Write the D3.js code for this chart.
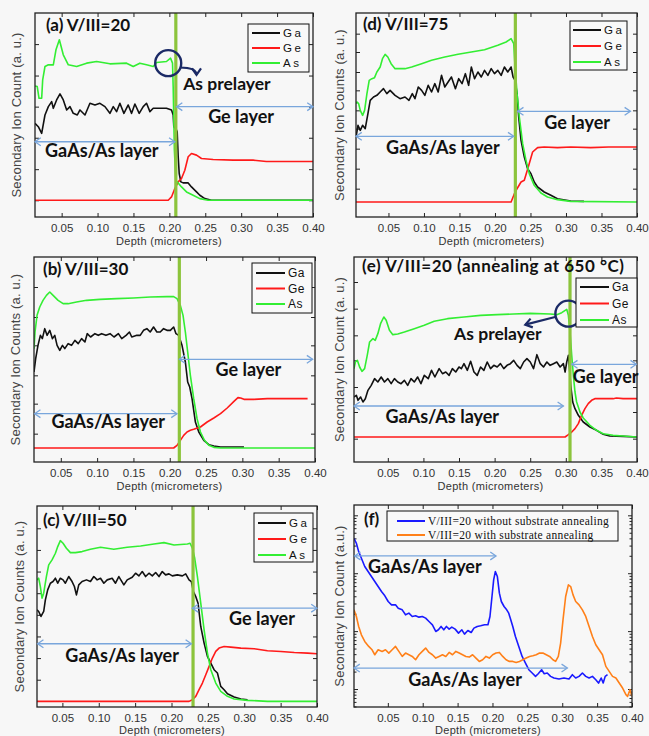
<!DOCTYPE html>
<html><head><meta charset="utf-8">
<script src="https://cdn.jsdelivr.net/npm/d3@7/dist/d3.min.js"></script>
<style>
body{margin:0;background:#f7f7f7;}
svg{display:block;}
</style></head><body>
<svg id="fig" width="649" height="736"></svg>
<script>
// ---------------- DATA ----------------
const depthTicks = [0.05,0.10,0.15,0.20,0.25,0.30,0.35,0.40];
const elementNames = ["Ga","Ge","As"];
const fNames = ["V/III=20 without substrate annealing","V/III=20 with substrate annealing"];

// (a) V/III=20
const aGa = [[0.0129,280],[0.0175,270],[0.0222,250],[0.0268,305],[0.0315,330],[0.0361,345],[0.0384,325],[0.0430,350],[0.0477,368],[0.0523,350],[0.0570,320],[0.0616,330],[0.0662,310],[0.0718,305],[0.0755,320],[0.0825,305],[0.0894,340],[0.0964,335],[0.1033,340],[0.1103,330],[0.1172,310],[0.1219,330],[0.1265,315],[0.1311,340],[0.1367,310],[0.1427,335],[0.1474,310],[0.1520,338],[0.1580,310],[0.1636,330],[0.1682,340],[0.1729,315],[0.1775,325],[0.1868,325],[0.1960,325],[0.2030,320],[0.2053,305],[0.2062,270],[0.2100,260],[0.2109,255],[0.2123,180],[0.2137,130],[0.2160,105],[0.2192,102],[0.2262,102],[0.2308,90],[0.2378,75],[0.2424,65],[0.2494,55],[0.2586,50],[0.4000,50]];
const aGe = [[0.0129,50],[0.1984,50],[0.2030,60],[0.2076,85],[0.2123,105],[0.2169,115],[0.2215,140],[0.2262,180],[0.2308,190],[0.2378,185],[0.2447,175],[0.2609,172],[0.2888,170],[0.3166,170],[0.3351,166],[0.3583,166],[0.4000,166]];
const aAs = [[0.0129,392],[0.0160,390],[0.0185,355],[0.0222,355],[0.0236,410],[0.0268,450],[0.0315,455],[0.0384,455],[0.0421,500],[0.0468,530],[0.0523,485],[0.0593,455],[0.0709,450],[0.0848,460],[0.0987,465],[0.1172,458],[0.1404,460],[0.1497,450],[0.1589,460],[0.1682,455],[0.1775,450],[0.1821,462],[0.1960,465],[0.2016,475],[0.2044,460],[0.2053,390],[0.2070,200],[0.2090,110],[0.2169,90],[0.2239,75],[0.2331,65],[0.2424,55],[0.2540,50],[0.4000,50]];
const aYTicks = [50,143,237,330,423,517];

// (d) V/III=75
const dGa = [[0.0043,240],[0.0071,275],[0.0103,260],[0.0136,275],[0.0173,265],[0.0211,310],[0.0243,350],[0.0290,360],[0.0337,365],[0.0383,375],[0.0430,385],[0.0477,370],[0.0523,380],[0.0593,365],[0.0663,355],[0.0733,360],[0.0789,350],[0.0836,370],[0.0873,355],[0.0920,390],[0.0967,380],[0.1013,365],[0.1060,395],[0.1107,375],[0.1153,400],[0.1200,375],[0.1247,425],[0.1293,390],[0.1340,405],[0.1387,420],[0.1443,385],[0.1489,415],[0.1536,400],[0.1583,430],[0.1629,395],[0.1667,450],[0.1713,415],[0.1760,435],[0.1807,420],[0.1853,440],[0.1900,425],[0.1947,445],[0.1993,430],[0.2040,440],[0.2087,425],[0.2133,450],[0.2180,435],[0.2227,450],[0.2255,420],[0.2283,410],[0.2311,370],[0.2334,300],[0.2367,230],[0.2413,180],[0.2460,145],[0.2507,130],[0.2553,105],[0.2600,90],[0.2693,75],[0.2787,65],[0.2880,55],[0.3067,48],[0.3253,47]];
const dGe = [[0.0043,45],[0.2227,45],[0.2283,75],[0.2367,105],[0.2413,110],[0.2469,150],[0.2530,195],[0.2600,208],[0.2693,210],[0.2880,208],[0.3067,210],[0.3347,208],[0.3600,210],[0.4000,210]];
const dAs = [[0.0043,340],[0.0057,345],[0.0080,340],[0.0103,320],[0.0136,305],[0.0164,320],[0.0197,370],[0.0229,410],[0.0267,415],[0.0304,418],[0.0337,435],[0.0383,450],[0.0416,475],[0.0453,488],[0.0491,480],[0.0537,460],[0.0593,445],[0.0663,445],[0.0733,445],[0.0827,450],[0.0967,460],[0.1107,470],[0.1293,480],[0.1480,488],[0.1667,495],[0.1853,502],[0.2040,515],[0.2157,525],[0.2227,535],[0.2264,520],[0.2283,450],[0.2311,370],[0.2343,300],[0.2390,220],[0.2437,170],[0.2483,130],[0.2553,95],[0.2647,72],[0.2740,60],[0.2880,52],[0.3067,47],[0.4000,45]];
const dYTicks = [85,145,205,265,320,380,435,495,550];

// (b) V/III=30
const bGa = [[0.0131,270],[0.0154,310],[0.0186,350],[0.0219,380],[0.0246,370],[0.0279,400],[0.0311,380],[0.0348,395],[0.0385,370],[0.0417,380],[0.0449,350],[0.0486,335],[0.0523,350],[0.0555,340],[0.0601,355],[0.0648,350],[0.0694,365],[0.0740,355],[0.0786,370],[0.0832,360],[0.0864,385],[0.0910,375],[0.0970,385],[0.1016,380],[0.1062,385],[0.1122,380],[0.1178,385],[0.1233,375],[0.1293,385],[0.1339,370],[0.1399,380],[0.1445,390],[0.1477,375],[0.1547,380],[0.1593,380],[0.1639,395],[0.1685,400],[0.1731,390],[0.1777,405],[0.1823,390],[0.1869,390],[0.1915,400],[0.1962,395],[0.2008,395],[0.2054,405],[0.2086,385],[0.2123,380],[0.2169,350],[0.2215,300],[0.2247,240],[0.2275,225],[0.2307,190],[0.2353,120],[0.2400,90],[0.2469,65],[0.2538,52],[0.2607,48],[0.2699,45],[0.3022,45]];
const bGe = [[0.0131,42],[0.2054,42],[0.2100,50],[0.2146,65],[0.2192,80],[0.2238,90],[0.2284,95],[0.2330,98],[0.2423,105],[0.2515,120],[0.2607,132],[0.2699,145],[0.2791,162],[0.2884,182],[0.2939,193],[0.2976,192],[0.3022,188],[0.3160,188],[0.3345,190],[0.3575,190],[0.3898,190]];
const bAs = [[0.0131,340],[0.0145,390],[0.0173,440],[0.0210,465],[0.0255,485],[0.0302,500],[0.0348,510],[0.0394,500],[0.0463,485],[0.0532,475],[0.0601,475],[0.0717,480],[0.0855,485],[0.1039,488],[0.1270,490],[0.1500,492],[0.1731,495],[0.1962,496],[0.2054,496],[0.2100,490],[0.2146,470],[0.2183,440],[0.2215,390],[0.2247,330],[0.2284,260],[0.2330,190],[0.2376,130],[0.2423,90],[0.2478,65],[0.2538,50],[0.2607,44],[0.2699,42],[0.4000,42]];
const bYTicks = [85,175,260,350,435,525];

// (e) V/III=20 annealed at 650 C
const eGa = [[0.0025,195],[0.0058,200],[0.0081,185],[0.0118,195],[0.0151,180],[0.0184,190],[0.0221,215],[0.0267,230],[0.0314,250],[0.0360,240],[0.0407,255],[0.0453,240],[0.0500,250],[0.0547,235],[0.0593,250],[0.0640,240],[0.0686,235],[0.0733,245],[0.0779,230],[0.0826,250],[0.0872,240],[0.0919,255],[0.0965,235],[0.1012,260],[0.1068,250],[0.1114,275],[0.1161,255],[0.1221,280],[0.1268,265],[0.1314,270],[0.1361,260],[0.1407,280],[0.1454,270],[0.1500,285],[0.1533,280],[0.1570,295],[0.1617,275],[0.1663,302],[0.1710,270],[0.1756,260],[0.1803,285],[0.1849,275],[0.1896,300],[0.1943,280],[0.1989,290],[0.2036,285],[0.2082,295],[0.2129,280],[0.2175,290],[0.2222,295],[0.2268,305],[0.2315,290],[0.2361,280],[0.2408,300],[0.2454,310],[0.2501,300],[0.2547,280],[0.2594,322],[0.2641,295],[0.2687,285],[0.2734,300],[0.2780,290],[0.2827,295],[0.2873,300],[0.2920,285],[0.2966,295],[0.2990,270],[0.3013,300],[0.3036,320],[0.3050,285],[0.3069,230],[0.3097,180],[0.3129,160],[0.3176,140],[0.3245,120],[0.3339,105],[0.3432,95],[0.3525,83],[0.3618,78],[0.3804,77],[0.4000,75]];
const eGe = [[0.0025,75],[0.2990,75],[0.3036,82],[0.3083,90],[0.3129,100],[0.3176,115],[0.3222,140],[0.3269,160],[0.3315,175],[0.3362,185],[0.3408,190],[0.3525,190],[0.3664,190],[0.3711,192],[0.3804,190],[0.4000,190]];
const eAs = [[0.0025,280],[0.0044,300],[0.0072,305],[0.0104,285],[0.0137,272],[0.0174,280],[0.0211,320],[0.0244,360],[0.0291,370],[0.0323,365],[0.0360,385],[0.0398,415],[0.0444,435],[0.0477,425],[0.0523,395],[0.0570,382],[0.0640,384],[0.0733,390],[0.0872,400],[0.1012,410],[0.1151,422],[0.1338,430],[0.1570,435],[0.1803,440],[0.2036,442],[0.2268,444],[0.2501,446],[0.2780,444],[0.2873,442],[0.2943,448],[0.3013,458],[0.3036,440],[0.3059,390],[0.3083,320],[0.3106,260],[0.3129,210],[0.3152,180],[0.3199,150],[0.3245,132],[0.3339,110],[0.3432,95],[0.3525,85],[0.3664,80],[0.3804,78],[0.4000,75]];
const eYTicks = [70,150,225,305,380,460,540];

// (c) V/III=50
const cGa = [[0.0151,292],[0.0174,287],[0.0206,272],[0.0243,287],[0.0266,322],[0.0298,352],[0.0335,372],[0.0371,377],[0.0404,387],[0.0436,372],[0.0472,387],[0.0509,382],[0.0541,372],[0.0587,392],[0.0633,377],[0.0665,362],[0.0693,337],[0.0725,367],[0.0771,377],[0.0831,382],[0.0886,377],[0.0932,392],[0.0978,382],[0.1024,387],[0.1070,372],[0.1116,382],[0.1184,387],[0.1230,372],[0.1276,392],[0.1345,367],[0.1391,382],[0.1460,390],[0.1506,402],[0.1552,394],[0.1598,407],[0.1644,392],[0.1690,402],[0.1736,394],[0.1782,404],[0.1828,392],[0.1873,407],[0.1919,397],[0.1965,400],[0.2011,394],[0.2080,397],[0.2149,394],[0.2195,400],[0.2241,382],[0.2273,377],[0.2301,347],[0.2333,332],[0.2365,312],[0.2402,242],[0.2448,192],[0.2494,152],[0.2540,132],[0.2585,112],[0.2631,102],[0.2677,62],[0.2723,52],[0.2769,40],[0.2861,30],[0.2953,24],[0.3045,22]];
const cGe = [[0.0151,17],[0.2241,17],[0.2287,22],[0.2333,32],[0.2379,52],[0.2425,72],[0.2471,97],[0.2517,122],[0.2562,147],[0.2608,167],[0.2654,177],[0.2723,182],[0.2815,180],[0.2953,177],[0.3137,175],[0.3320,169],[0.3504,167],[0.3688,164],[0.3872,162],[0.4000,160]];
const cAs = [[0.0151,382],[0.0174,387],[0.0197,362],[0.0220,327],[0.0243,342],[0.0280,392],[0.0312,427],[0.0358,442],[0.0404,462],[0.0436,482],[0.0472,500],[0.0509,492],[0.0555,477],[0.0610,464],[0.0679,464],[0.0771,467],[0.0886,474],[0.1024,480],[0.1207,474],[0.1391,480],[0.1575,484],[0.1759,490],[0.1896,494],[0.2034,487],[0.2218,490],[0.2255,492],[0.2287,477],[0.2319,447],[0.2356,392],[0.2402,312],[0.2448,232],[0.2494,162],[0.2540,112],[0.2608,72],[0.2677,47],[0.2769,32],[0.2861,24],[0.3045,20],[0.3320,17],[0.4000,17]];
const cYTicks = [82,147,212,277,342,407,472,537];

// (f) comparison
const fBlue = [[0.0015,507],[0.0049,492],[0.0082,467],[0.0121,447],[0.0169,422],[0.0217,407],[0.0265,392],[0.0313,377],[0.0361,362],[0.0409,347],[0.0457,334],[0.0505,317],[0.0553,307],[0.0610,307],[0.0649,297],[0.0706,292],[0.0754,277],[0.0802,282],[0.0850,272],[0.0898,274],[0.0946,270],[0.0994,272],[0.1042,267],[0.1090,257],[0.1139,247],[0.1187,227],[0.1225,232],[0.1263,242],[0.1302,232],[0.1340,242],[0.1379,234],[0.1417,240],[0.1465,234],[0.1513,222],[0.1561,232],[0.1599,219],[0.1647,230],[0.1695,224],[0.1734,237],[0.1782,242],[0.1830,244],[0.1887,247],[0.1935,247],[0.1964,272],[0.1993,332],[0.2017,382],[0.2041,407],[0.2070,392],[0.2099,342],[0.2127,317],[0.2166,302],[0.2204,292],[0.2233,282],[0.2262,262],[0.2291,242],[0.2329,212],[0.2377,182],[0.2425,152],[0.2473,132],[0.2521,112],[0.2569,102],[0.2617,92],[0.2656,100],[0.2704,112],[0.2742,100],[0.2785,102],[0.2833,92],[0.2881,87],[0.2953,84],[0.3025,87],[0.3097,84],[0.3145,97],[0.3193,87],[0.3241,92],[0.3289,102],[0.3337,92],[0.3385,87],[0.3433,92],[0.3481,82],[0.3520,72],[0.3558,87],[0.3587,72],[0.3616,92],[0.3649,97]];
const fOrange = [[0.0015,292],[0.0049,272],[0.0082,242],[0.0121,217],[0.0169,197],[0.0226,182],[0.0274,172],[0.0313,157],[0.0361,172],[0.0418,167],[0.0466,172],[0.0514,162],[0.0562,172],[0.0610,182],[0.0658,167],[0.0706,152],[0.0754,162],[0.0802,157],[0.0850,152],[0.0898,142],[0.0946,157],[0.0994,167],[0.1042,177],[0.1090,164],[0.1139,157],[0.1187,147],[0.1235,152],[0.1283,157],[0.1331,152],[0.1379,164],[0.1427,157],[0.1475,167],[0.1523,162],[0.1571,157],[0.1619,152],[0.1667,150],[0.1715,157],[0.1763,147],[0.1811,137],[0.1859,142],[0.1907,152],[0.1955,147],[0.2003,157],[0.2051,162],[0.2099,164],[0.2147,152],[0.2195,142],[0.2243,137],[0.2291,137],[0.2339,134],[0.2387,137],[0.2435,142],[0.2483,147],[0.2531,152],[0.2579,154],[0.2627,157],[0.2675,162],[0.2723,162],[0.2771,157],[0.2819,152],[0.2867,142],[0.2905,137],[0.2944,152],[0.2977,192],[0.3011,262],[0.3049,332],[0.3088,367],[0.3121,362],[0.3155,337],[0.3193,317],[0.3241,307],[0.3289,292],[0.3337,272],[0.3385,242],[0.3433,212],[0.3481,187],[0.3529,172],[0.3577,157],[0.3625,122],[0.3673,107],[0.3721,92],[0.3769,87],[0.3817,72],[0.3865,57],[0.3913,37],[0.3937,32],[0.3971,52],[0.4000,32]];
const fDecades = [54,228,402,576];

// ---------------- DRAWING ----------------
const svg = d3.select("#fig");
const COL = {Ga:"#111111", Ge:"#ff1a1a", As:"#33ee33", blue:"#1a1aff", orange:"#ff8019",
  iface:"#8cc43c", arrow:"#79a6dc", navy:"#1b2a66", frame:"#222"};
const annFont = "Lato, 'Open Sans', sans-serif";
const sansFont = "'Liberation Sans', Arial, sans-serif";

function chevron(g, tip, ang, color, size, w) {
  const a1 = ang + Math.PI - 0.6, a2 = ang + Math.PI + 0.6;
  g.append("path")
    .attr("d", `M${tip[0]+size*Math.cos(a1)},${tip[1]+size*Math.sin(a1)}L${tip[0]},${tip[1]}L${tip[0]+size*Math.cos(a2)},${tip[1]+size*Math.sin(a2)}`)
    .attr("fill","none").attr("stroke",color).attr("stroke-width",w);
}

function panel(cfg) {
  const g = svg.append("g");
  const x = d3.scaleLinear().domain(cfg.xDomain).range([cfg.left, cfg.right]);
  const y = d3.scaleLinear().domain(cfg.yDomain).range([cfg.bottom, cfg.top]);
  const cid = "clip_" + cfg.id;
  svg.append("clipPath").attr("id", cid).append("rect")
    .attr("x", cfg.left).attr("y", cfg.top)
    .attr("width", cfg.right - cfg.left).attr("height", cfg.bottom - cfg.top);

  // axes (inward ticks)
  g.append("g").attr("transform", `translate(0,${cfg.bottom})`)
    .call(d3.axisBottom(x).tickValues(depthTicks).tickFormat(d3.format(".2f")).tickSizeInner(-4).tickSizeOuter(0).tickPadding(7.3))
    .call(a => { a.select(".domain").remove();
      a.selectAll("text").attr("font-family", sansFont).attr("font-size",11.5).attr("fill","#333");
      a.selectAll("line").attr("stroke",COL.frame); });
  g.append("g").attr("transform", `translate(0,${cfg.top})`)
    .call(d3.axisTop(x).tickValues(depthTicks).tickFormat("").tickSizeInner(-4).tickSizeOuter(0))
    .call(a => { a.select(".domain").remove(); a.selectAll("line").attr("stroke",COL.frame); });
  const drawY = (vals, size) => {
    g.append("g").attr("transform", `translate(${cfg.left},0)`)
      .call(d3.axisLeft(y).tickValues(vals).tickFormat("").tickSizeInner(-size).tickSizeOuter(0))
      .call(a => { a.select(".domain").remove(); a.selectAll("line").attr("stroke",COL.frame); });
    g.append("g").attr("transform", `translate(${cfg.right},0)`)
      .call(d3.axisRight(y).tickValues(vals).tickFormat("").tickSizeInner(-size).tickSizeOuter(0))
      .call(a => { a.select(".domain").remove(); a.selectAll("line").attr("stroke",COL.frame); });
  };
  drawY(cfg.yTicks, 4);
  if (cfg.yMinor) drawY(cfg.yMinor, 2.5);

  // series
  const line = d3.line().x(d => x(d[0])).y(d => y(d[1]));
  const cg = g.append("g").attr("clip-path", `url(#${cid})`);
  cfg.series.forEach(s => {
    cg.append("path").datum(s.data).attr("d", line)
      .attr("fill","none").attr("stroke", s.color).attr("stroke-width", 1.6)
      .attr("stroke-linejoin","round");
  });
  if (cfg.iface != null) {
    cg.append("line").attr("x1", x(cfg.iface)).attr("x2", x(cfg.iface))
      .attr("y1", cfg.top).attr("y2", cfg.bottom)
      .attr("stroke", COL.iface).attr("stroke-width", 3.2);
  }

  // frame
  g.append("rect").attr("x", cfg.left).attr("y", cfg.top)
    .attr("width", cfg.right - cfg.left).attr("height", cfg.bottom - cfg.top)
    .attr("fill","none").attr("stroke", COL.frame).attr("stroke-width", 1.3);

  // axis titles
  g.append("text").attr("x", (cfg.left + cfg.right)/2 - 5).attr("y", Math.min(cfg.bottom + 28, 734))
    .attr("text-anchor","middle").attr("font-family", sansFont)
    .attr("font-size", 11).attr("letter-spacing", 0.3).attr("fill","#333").text("Depth (micrometers)");
  g.append("text").attr("transform", `translate(${cfg.yLabelX},${(cfg.top+cfg.bottom)/2}) rotate(-90)`)
    .attr("text-anchor","middle").attr("dy","0.35em")
    .attr("font-family", sansFont)
    .attr("font-size", 13).attr("letter-spacing", 0.2).attr("fill","#444").text(cfg.yLabel);

  // title
  const tt = g.append("text").attr("x", cfg.titleX).attr("y", cfg.titleY)
    .attr("font-family", annFont).attr("font-weight", 700).attr("font-size", 17)
    .attr("fill","#111").text(cfg.title);
  if (cfg.titleLen) tt.attr("textLength", cfg.titleLen).attr("lengthAdjust", "spacing");

  // layer arrows
  cfg.layers.forEach(L => {
    const x1 = x(L.x1), x2 = x(L.x2), yy = y(L.y);
    g.append("line").attr("x1", x1).attr("x2", x2).attr("y1", yy).attr("y2", yy)
      .attr("stroke", COL.arrow).attr("stroke-width", 1.3);
    chevron(g, [x1, yy], Math.PI, COL.arrow, 7, 1.3);
    chevron(g, [x2, yy], 0, COL.arrow, 7, 1.3);
    g.append("text").attr("x", x(L.lx)).attr("y", y(L.ly))
      .attr("font-family", annFont).attr("font-weight", 700).attr("font-size", 18)
      .attr("fill","#111").text(L.label);
  });

  // As prelayer annotation
  if (cfg.pre) {
    const P = cfg.pre;
    g.append("circle").attr("cx", x(P.c[0])).attr("cy", y(P.c[1])).attr("r", 13)
      .attr("fill","none").attr("stroke", COL.navy).attr("stroke-width", 2.4);
    const s = [x(P.s[0]), y(P.s[1])], e = [x(P.e[0]), y(P.e[1])];
    const c = P.bend ? [e[0], s[1]] : [(s[0]+e[0])/2, (s[1]+e[1])/2];
    g.append("path").attr("d", `M${s[0]},${s[1]}Q${c[0]},${c[1]} ${e[0]},${e[1]}`)
      .attr("fill","none").attr("stroke", COL.navy).attr("stroke-width", 2.2);
    chevron(g, e, Math.atan2(e[1]-c[1], e[0]-c[0]), COL.navy, 8, 2.2);
    g.append("text").attr("x", x(P.t[0])).attr("y", y(P.t[1]))
      .attr("font-family", annFont).attr("font-weight", 700).attr("font-size", 17.5)
      .attr("fill","#111").text("As prelayer");
  }

  // legend
  const Lg = cfg.legend;
  g.append("rect").attr("x", Lg.x).attr("y", Lg.y).attr("width", Lg.w).attr("height", Lg.h)
    .attr("fill","#f9f9f9").attr("stroke","#111").attr("stroke-width", 1);
  cfg.series.forEach((s, i) => {
    const yy = Lg.y + Lg.r0 + i * Lg.dr;
    g.append("line").attr("x1", Lg.x + Lg.l1).attr("x2", Lg.x + Lg.l2)
      .attr("y1", yy).attr("y2", yy).attr("stroke", s.color).attr("stroke-width", 2);
    g.append("text").attr("x", Lg.x + Lg.l2 + 3).attr("y", yy).attr("dy","0.36em")
      .attr("font-family", Lg.font).attr("font-size", Lg.fs)
      .attr("letter-spacing", Lg.ls).attr("fill","#111").text(s.name);
  });
}

const elemSeries = (ga, ge, as) => [
  {name: elementNames[0], data: ga, color: COL.Ga},
  {name: elementNames[1], data: ge, color: COL.Ge},
  {name: elementNames[2], data: as, color: COL.As}];

panel({id:"a", left:35, right:313, top:13, bottom:217, xDomain:[0.0129,0.40], yDomain:[0,610],
  yTicks:aYTicks, iface:0.2090, series: elemSeries(aGa, aGe, aAs),
  title:"(a) V/III=20", titleX:46, titleY:31, yLabel:"Secondary Ion Count (a. u.)", yLabelX:16,
  legend:{x:248, y:24, w:61, h:48, r0:9, dr:15, l1:4, l2:32, font:sansFont, fs:11.5, ls:2.5},
  layers:[{x1:0.2100, x2:0.40, y:330, label:"Ge layer", lx:0.2540, ly:280},
          {x1:0.0129, x2:0.2076, y:225, label:"GaAs/As layer", lx:0.0268, ly:180}],
  pre:{c:[0.1984,460], s:[0.2146,447], e:[0.2378,425], t:[0.2192,380], bend:true}});

panel({id:"d", left:356, right:637, top:13, bottom:217, xDomain:[0.0043,0.40], yDomain:[0,612],
  yTicks:dYTicks, iface:0.2287, series: elemSeries(dGa, dGe, dAs),
  title:"(d) V/III=75", titleX:363, titleY:30, yLabel:"Secondary Ion Counts (a. u.)", yLabelX:339,
  legend:{x:570, y:21, w:57, h:49, r0:9, dr:16, l1:3, l2:31, font:sansFont, fs:11.5, ls:2.5},
  layers:[{x1:0.2320, x2:0.3907, y:317, label:"Ge layer", lx:0.2693, ly:265},
          {x1:0.0043, x2:0.2264, y:242, label:"GaAs/As layer", lx:0.0467, ly:188}]});

panel({id:"b", left:34, right:315, top:257, bottom:462, xDomain:[0.0131,0.40], yDomain:[0,615],
  yTicks:bYTicks, iface:0.2132, series: elemSeries(bGa, bGe, bAs),
  title:"(b) V/III=30", titleX:43, titleY:275, yLabel:"Secondary Ion Counts (a. u.)", yLabelX:15,
  legend:{x:252, y:263, w:60, h:50, r0:10, dr:15.5, l1:4, l2:33, font:sansFont, fs:12, ls:0.5},
  layers:[{x1:0.2132, x2:0.3967, y:308, label:"Ge layer", lx:0.2630, ly:258},
          {x1:0.0140, x2:0.2100, y:145, label:"GaAs/As layer", lx:0.0371, ly:102}]});

panel({id:"e", left:354, right:637, top:257, bottom:462, xDomain:[0.0025,0.40], yDomain:[0,615],
  yTicks:eYTicks, iface:0.3059, series: elemSeries(eGa, eGe, eAs),
  title:"(e) V/III=20 (annealing at 650 °C)", titleX:362, titleY:272, titleLen:262,
  yLabel:"Secondary Ion Count (a. u.)", yLabelX:339,
  legend:{x:576, y:278, w:61, h:49, r0:9, dr:16.5, l1:4, l2:33, font:sansFont, fs:12, ls:0.5},
  layers:[{x1:0.3083, x2:0.3990, y:293, label:"Ge layer", lx:0.3097, ly:238},
          {x1:0.0025, x2:0.2966, y:168, label:"GaAs/As layer", lx:0.0467, ly:118}],
  pre:{c:[0.3036,445], s:[0.2850,435], e:[0.2431,412], t:[0.1431,365], bend:false}});

panel({id:"c", left:37, right:317, top:506, bottom:707, xDomain:[0.0151,0.40], yDomain:[0,604],
  yTicks:cYTicks, iface:0.2296, series: elemSeries(cGa, cGe, cAs),
  title:"(c) V/III=50", titleX:43, titleY:526, yLabel:"Secondary Ion Counts (a. u.)", yLabelX:19,
  legend:{x:254, y:513, w:59, h:49, r0:10, dr:16, l1:4, l2:32, font:sansFont, fs:11.5, ls:2.5},
  layers:[{x1:0.2287, x2:0.40, y:297, label:"Ge layer", lx:0.2792, ly:247},
          {x1:0.0160, x2:0.2273, y:190, label:"GaAs/As layer", lx:0.0541, ly:134}]});

// log-style ticks for (f)
const fMinor = [];
[fDecades[0] - 174].concat(fDecades).forEach(d0 => {
  for (let k = 2; k <= 9; k++) {
    const v = d0 + 174 * Math.log10(k);
    if (v > 0 && v < 607) fMinor.push(v);
  }
});
panel({id:"f", left:354, right:632, top:505, bottom:707, xDomain:[0.0015,0.40], yDomain:[0,607],
  yTicks:fDecades, yMinor:fMinor, iface:null,
  series:[{name:fNames[0], data:fBlue, color:COL.blue},{name:fNames[1], data:fOrange, color:COL.orange}],
  title:"(f)", titleX:364, titleY:525, yLabel:"Secondary Ion Count (a.u.)", yLabelX:339,
  legend:{x:387, y:511, w:231, h:30, r0:10, dr:14, l1:10, l2:38, font:"'Liberation Serif', 'Times New Roman', serif", fs:11.5, ls:0.3},
  layers:[{x1:0.0025, x2:0.2051, y:454, label:"GaAs/As layer", lx:0.0217, ly:402},
          {x1:0.0015, x2:0.3073, y:117, label:"GaAs/As layer", lx:0.0793, ly:64}]});
</script>
</body></html>
